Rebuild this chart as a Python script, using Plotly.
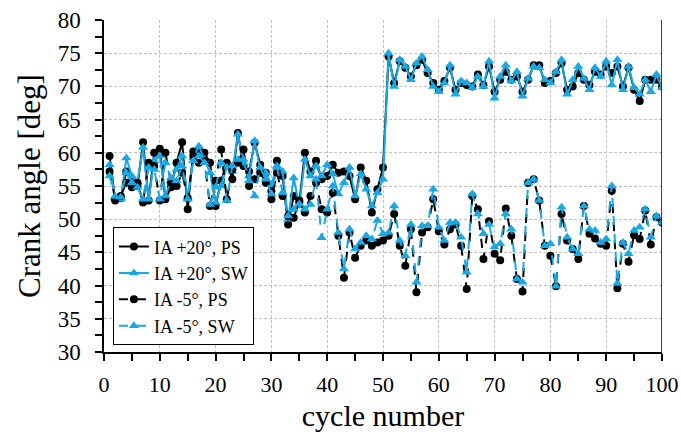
import plotly.graph_objects as go

cycles = list(range(1, 101))

ia20_ps = [59.5, 52.8, 53.2, 57.2, 55.7, 55.0, 61.6, 52.8, 60.0, 60.6,
           53.0, 54.8, 58.5, 61.6, 51.5, 60.2, 60.5, 60.0, 58.5, 52.0,
           55.8, 58.5, 56.0, 63.0, 58.0, 57.2, 61.5, 58.2, 57.0, 54.2,
           58.8, 56.5, 49.2, 53.5, 52.5, 60.0, 57.2, 58.8, 56.0, 56.5,
           58.2, 57.0, 57.2, 56.5, 53.0, 57.8, 55.8, 51.0, 54.5, 57.8,
           74.5, 70.5, 73.8, 72.8, 71.5, 73.2, 74.0, 72.0, 70.5, 69.5,
           70.8, 72.8, 69.5, 70.5, 70.2, 70.0, 71.8, 70.2, 73.0, 69.2,
           71.0, 72.2, 71.0, 71.5, 69.2, 71.0, 73.2, 73.2, 70.5, 70.8,
           72.0, 73.5, 69.5, 70.0, 72.0, 71.0, 70.2, 72.2, 71.8, 73.0,
           72.0, 73.0, 70.0, 72.8, 69.5, 67.8, 71.0, 71.0, 71.0, 70.0]

ia20_sw = [58.2, 53.2, 53.0, 59.2, 56.5, 55.6, 60.8, 53.0, 58.8, 59.5,
           53.5, 55.8, 57.5, 59.5, 53.2, 59.2, 61.0, 59.0, 57.0, 52.5,
           55.0, 57.8, 57.2, 62.8, 58.5, 56.5, 61.8, 57.5, 57.0, 55.2,
           58.0, 57.2, 50.0, 56.2, 52.0, 59.0, 56.5, 58.0, 56.5, 58.2,
           56.8, 53.8, 55.5, 57.8, 53.5, 56.8, 54.5, 52.0, 54.0, 56.0,
           75.0, 70.0, 74.0, 73.0, 71.0, 73.5, 74.5, 72.5, 70.0, 69.2,
           70.5, 73.2, 68.8, 70.8, 70.5, 69.8, 71.5, 70.0, 73.8, 68.2,
           71.5, 73.2, 70.8, 72.2, 68.5, 71.2, 73.0, 72.8, 71.0, 70.5,
           72.2, 74.0, 68.8, 71.0, 73.0, 71.2, 69.5, 72.8, 71.5, 73.8,
           70.2, 74.0, 69.5, 73.0, 69.8, 68.8, 71.0, 69.2, 71.8, 69.8]

ia5_ps = [57.2, 53.0, 53.5, 55.5, 54.8, 55.5, 52.5, 58.5, 58.0, 52.8,
          60.0, 55.5, 55.0, 57.0, 53.2, 59.5, 58.5, 58.8, 52.0, 55.8,
          60.5, 53.0, 57.5, 58.5, 60.5, 55.0, 56.0, 57.0, 55.5, 53.0,
          57.0, 53.5, 50.5, 50.2, 52.8, 51.0, 53.5, 55.5, 51.5, 51.0,
          54.0, 47.5, 41.2, 48.0, 44.2, 46.0, 46.8, 46.0, 46.5, 46.8,
          47.5, 50.8, 46.0, 43.0, 48.5, 39.0, 48.0, 48.8, 53.0, 48.2,
          46.2, 48.5, 49.2, 46.0, 39.5, 53.5, 51.5, 44.0, 49.7, 44.8,
          43.8, 51.6, 47.5, 41.0, 39.1, 55.5, 56.0, 52.8, 46.0, 44.5,
          39.9, 50.8, 46.8, 45.5, 44.0, 52.0, 47.8, 47.1, 46.3, 46.0,
          54.3, 39.6, 46.3, 43.6, 47.6, 47.0, 51.3, 46.2, 50.3, 49.5]

ia5_sw = [56.5, 53.4, 53.3, 57.0, 55.5, 54.8, 53.0, 57.8, 57.5, 53.0,
          58.5, 56.2, 55.8, 58.0, 53.0, 58.8, 59.5, 58.5, 52.2, 54.8,
          58.5, 52.8, 58.0, 59.0, 59.0, 55.8, 53.5, 57.8, 56.0, 53.8,
          57.8, 54.0, 50.5, 51.5, 52.3, 51.5, 52.2, 56.0, 47.2, 51.5,
          55.0, 48.0, 42.5, 48.5, 45.5, 46.5, 47.5, 47.0, 49.8, 47.8,
          48.0, 52.0, 46.8, 44.5, 49.2, 40.5, 49.0, 49.0, 54.5, 48.8,
          46.8, 49.5, 49.5, 47.3, 42.0, 53.8, 50.8, 47.8, 49.2, 45.8,
          46.3, 50.8, 48.5, 41.0, 40.5, 55.5, 56.0, 52.8, 46.0, 46.3,
          39.9, 51.8, 47.3, 45.5, 44.8, 52.0, 48.5, 48.3, 46.5, 47.0,
          55.0, 40.3, 46.5, 44.8, 48.3, 48.8, 51.5, 47.3, 50.5, 49.5]

names = ["IA +20°, PS", "IA +20°, SW", "IA -5°, PS", "IA -5°, SW"]
series = [ia20_ps, ia20_sw, ia5_ps, ia5_sw]

BLACK = "#000000"
CYAN = "#18A8E4"
styles = [
    dict(color=BLACK, dash="solid", symbol="circle", size=8),
    dict(color=CYAN, dash="solid", symbol="triangle-up", size=9),
    dict(color=BLACK, dash="dash", symbol="circle", size=8),
    dict(color=CYAN, dash="dash", symbol="triangle-up", size=9),
]

fig = go.Figure()
for name, ys, st in zip(names, series, styles):
    fig.add_trace(go.Scatter(
        x=cycles, y=ys, name=name, mode="lines+markers",
        line=dict(color=st["color"], width=2, dash=st["dash"]),
        marker=dict(color=st["color"], symbol=st["symbol"], size=st["size"]),
    ))

FONT = "Liberation Serif"
grid = dict(showgrid=True, gridcolor="#c0c0c0", gridwidth=1, griddash="3px,2px")

fig.update_layout(
    width=681, height=432,
    margin=dict(l=104, r=19, t=20, b=80, autoexpand=False),
    paper_bgcolor="white", plot_bgcolor="white",
    font=dict(family=FONT, color="black", size=23),
    showlegend=True,
    legend=dict(
        x=0.016, y=0.02, xanchor="left", yanchor="bottom",
        bgcolor="white", bordercolor="black", borderwidth=1,
        font=dict(family=FONT, size=18, color="black"),
        tracegroupgap=0, itemwidth=30,
    ),
    xaxis=dict(
        range=[0, 100], tickmode="array", tickvals=list(range(0, 101, 10)),
        ticks="outside", ticklen=7, tickwidth=1.5, tickcolor="black",
        minor=dict(tickvals=list(range(5, 100, 10)), ticks="outside", ticklen=7,
                   tickwidth=1.5, tickcolor="black", showgrid=False),
        showline=True, linecolor="black", linewidth=1.5,
        title=dict(text="cycle number", font=dict(family=FONT, size=30), standoff=13),
        tickfont=dict(family=FONT, size=22), ticklabelstandoff=5,
        automargin=False, zeroline=False, **grid,
    ),
    yaxis=dict(
        range=[30, 80], tickmode="array", tickvals=list(range(30, 81, 5)),
        ticks="outside", ticklen=7, tickwidth=1.5, tickcolor="black",
        minor=dict(tickvals=[30 + 2.5 * i for i in range(1, 20, 2)], ticks="outside",
                   ticklen=7, tickwidth=1.5, tickcolor="black", showgrid=False),
        showline=True, linecolor="black", linewidth=1.5,
        title=dict(text="Crank angle [deg]", font=dict(family=FONT, size=31), standoff=8),
        tickfont=dict(family=FONT, size=23), ticklabelstandoff=10,
        automargin=False, zeroline=False, **grid,
    ),
)

fig.add_shape(type="line", xref="x", yref="paper", x0=100, x1=100, y0=0, y1=1,
              line=dict(color="black", width=1.5))

fig.write_html("out.html")
